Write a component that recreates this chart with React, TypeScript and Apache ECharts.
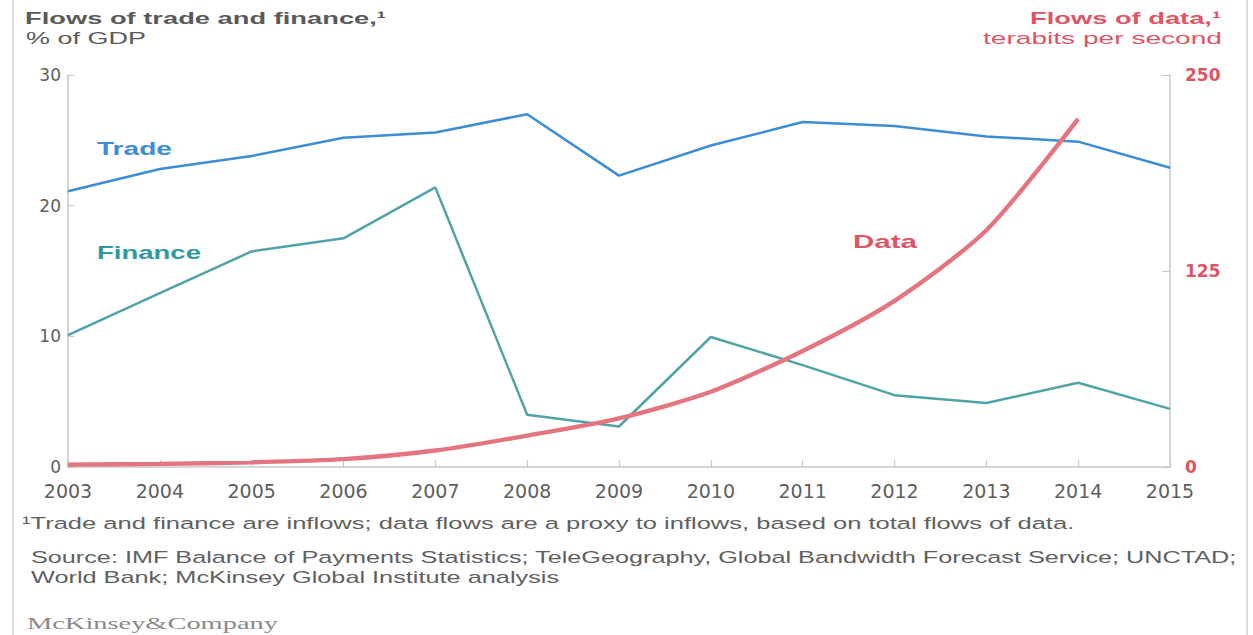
import React, { useEffect, useRef } from "react";
import * as echarts from "echarts";

// ---- data ----
const years = ["2003", "2004", "2005", "2006", "2007", "2008", "2009", "2010", "2011", "2012", "2013", "2014", "2015"];
const trade = [21.1, 22.8, 23.8, 25.2, 25.6, 27.0, 22.3, 24.6, 26.4, 26.1, 25.3, 24.9, 22.9];
const finance = [10.1, 13.3, 16.5, 17.5, 21.4, 4.0, 3.1, 9.95, 7.8, 5.5, 4.9, 6.45, 4.45];
const dataFlows: (number | null)[] = [1.5, 2, 3, 5, 10.5, 20, 31, 48, 74, 106, 151, 222, null];
const leftAxis = { min: 0, max: 30, interval: 10 };
const rightAxis = { min: 0, max: 250, interval: 125 };

const SANS = '"Liberation Sans", Arial, Helvetica, sans-serif';
const SERIF = '"Liberation Serif", "Times New Roman", serif';
const AXIS_FONT = '"DejaVu Sans", Verdana, sans-serif';

const GREY_TEXT = "#5a5a5a";
const TRADE = "#3a8dd6";
const FIN = "#4fa3a9";
const FIN_LABEL = "#2f9a9e";
const DATA = "#e4757f";
const DATA_LABEL = "#e05464";
const AXIS = "#c9c9c9";

export default function App() {
  const ref = useRef<HTMLDivElement>(null);

  useEffect(() => {
    if (!ref.current) return;
    const chart = echarts.init(ref.current, undefined, { renderer: "svg" });
    const canvas = document.createElement("canvas");
    const ctx = canvas.getContext("2d")!;

    const txt = (
      text: string,
      x: number,
      y: number,
      targetW: number,
      size: number,
      weight: string,
      family: string,
      fill: string,
      align: string = "left"
    ) => {
      ctx.font = `${weight} ${size}px ${family}`;
      const w = ctx.measureText(text).width || 1;
      return {
        type: "text",
        x,
        y,
        scaleX: targetW / w,
        silent: true,
        style: {
          text,
          fontSize: size,
          fontWeight: weight,
          fontFamily: family,
          fill,
          align,
          verticalAlign: "middle",
        },
      };
    };

    const option: any = {
      animation: false,
      backgroundColor: "#ffffff",
      grid: { left: 68, right: 83, top: 75, bottom: 168, containLabel: false },
      xAxis: {
        type: "category",
        data: years,
        boundaryGap: false,
        axisLine: { show: true, lineStyle: { color: AXIS, width: 1.5 } },
        axisTick: { show: true, inside: true, length: 7, alignWithLabel: true, lineStyle: { color: AXIS, width: 1.2 } },
        axisLabel: { color: "#5e5e5e", fontFamily: AXIS_FONT, fontSize: 19, margin: 14 },
        splitLine: { show: false },
      },
      yAxis: [
        {
          type: "value",
          position: "left",
          min: leftAxis.min,
          max: leftAxis.max,
          interval: leftAxis.interval,
          axisLine: { show: true, lineStyle: { color: AXIS, width: 1.5 } },
          axisTick: { show: true, inside: true, length: 6, lineStyle: { color: AXIS, width: 1.2 } },
          axisLabel: { color: "#5e5e5e", fontFamily: AXIS_FONT, fontSize: 17, margin: 7 },
          splitLine: { show: false },
        },
        {
          type: "value",
          position: "right",
          min: rightAxis.min,
          max: rightAxis.max,
          interval: rightAxis.interval,
          axisLine: { show: true, lineStyle: { color: AXIS, width: 1.5 } },
          axisTick: { show: true, inside: true, length: 8, lineStyle: { color: AXIS, width: 1.2 } },
          axisLabel: {
            color: DATA_LABEL,
            fontFamily: AXIS_FONT,
            fontWeight: "bold",
            fontSize: 17,
            margin: 15,
          },
          splitLine: { show: false },
        },
      ],
      series: [
        {
          name: "Trade",
          type: "line",
          data: trade,
          yAxisIndex: 0,
          symbol: "none",
          lineStyle: { color: TRADE, width: 2.5 },
          z: 3,
        },
        {
          name: "Finance",
          type: "line",
          data: finance,
          yAxisIndex: 0,
          symbol: "none",
          lineStyle: { color: FIN, width: 2.5 },
          z: 3,
        },
        {
          name: "Data",
          type: "line",
          data: dataFlows,
          yAxisIndex: 1,
          symbol: "none",
          smooth: 0.25,
          lineStyle: { color: DATA, width: 4.4 },
          z: 4,
        },
      ],
      graphic: [
        { type: "line", silent: true, shape: { x1: 13, y1: 0, x2: 13, y2: 635 }, style: { stroke: "#cfcfcf", lineWidth: 1.5 } },
        { type: "line", silent: true, shape: { x1: 1247, y1: 0, x2: 1247, y2: 635 }, style: { stroke: "#cfcfcf", lineWidth: 1.5 } },
        txt("Flows of trade and finance,\u00b9", 25, 18, 361, 17, "bold", SANS, GREY_TEXT),
        txt("% of GDP", 26, 38, 120, 17, "normal", SANS, GREY_TEXT),
        txt("Flows of data,\u00b9", 1221, 18, 191, 17, "bold", SANS, DATA_LABEL, "right"),
        txt("terabits per second", 1222, 38, 239, 17, "normal", SANS, DATA_LABEL, "right"),
        txt("Trade", 97, 148, 75, 19, "bold", SANS, TRADE),
        txt("Finance", 97, 253, 104, 19, "bold", SANS, FIN_LABEL),
        txt("Data", 853, 241, 64, 19, "bold", SANS, DATA_LABEL),
        txt(
          "\u00b9Trade and finance are inflows; data flows are a proxy to inflows, based on total flows of data.",
          22,
          523,
          1053,
          17,
          "normal",
          SANS,
          "#606060"
        ),
        txt(
          "Source: IMF Balance of Payments Statistics; TeleGeography, Global Bandwidth Forecast Service; UNCTAD;",
          31,
          557,
          1206,
          17,
          "normal",
          SANS,
          "#606060"
        ),
        txt("World Bank; McKinsey Global Institute analysis", 31, 577, 528, 17, "normal", SANS, "#606060"),
        txt("McKinsey&Company", 27, 623, 251, 17, "normal", SERIF, "#8a8a8a"),
      ],
    };

    chart.setOption(option);
    return () => chart.dispose();
  }, []);

  return (
    <div
      ref={ref}
      style={{ position: "fixed", left: 0, top: 0, width: 1253, height: 635, background: "#fff" }}
    />
  );
}
